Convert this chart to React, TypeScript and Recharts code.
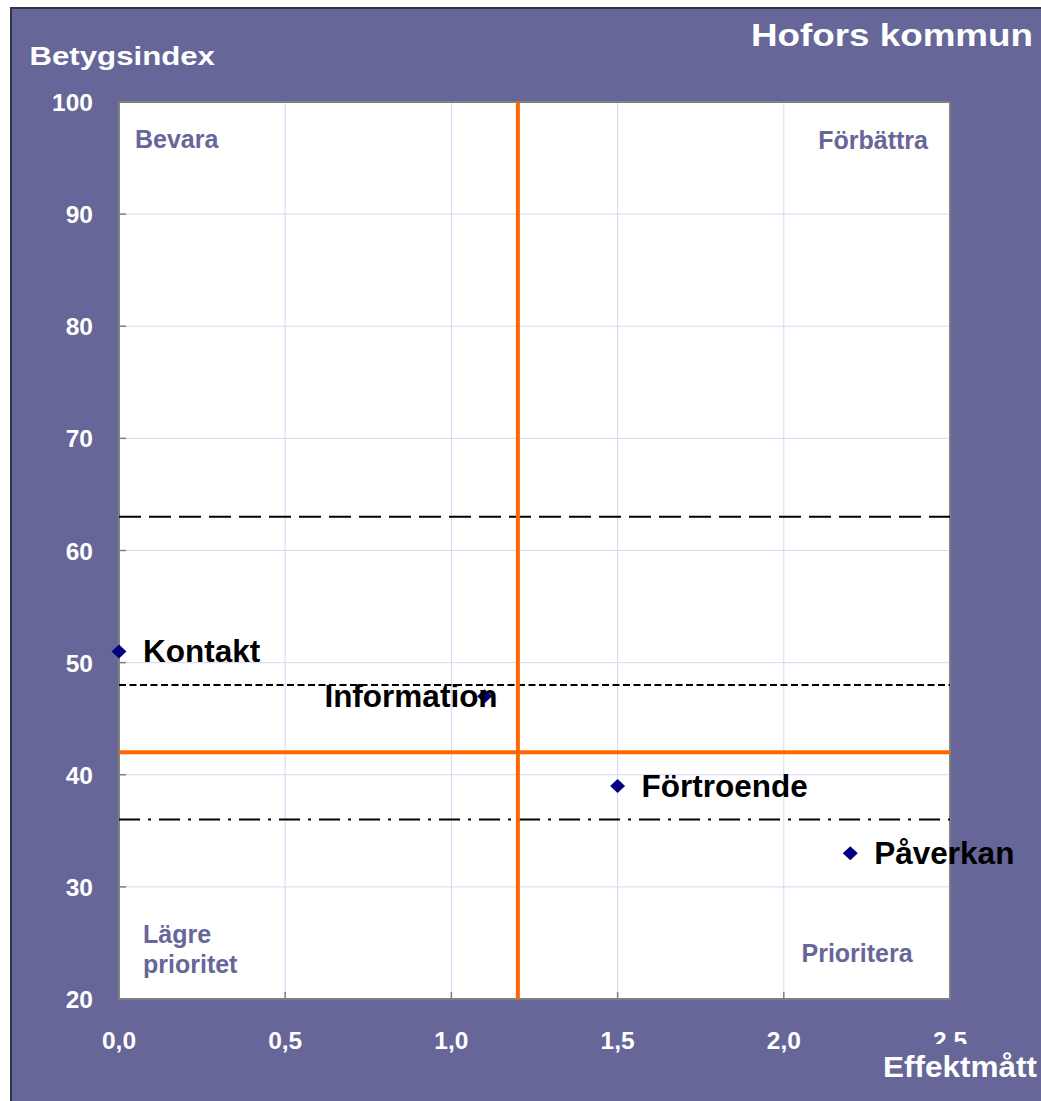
import React from "react";
import {
  ScatterChart,
  Scatter,
  XAxis,
  YAxis,
  CartesianGrid,
  ReferenceLine,
  ReferenceArea,
} from "recharts";

const AREAS = ["Kontakt", "Information", "Förtroende", "Påverkan"];
const EFFEKT = [0, 1.1, 1.5, 2.2];
const BETYG = [51, 47, 39, 33];

const X_TICKS = [0, 0.5, 1, 1.5, 2, 2.5];
const Y_TICKS = [20, 30, 40, 50, 60, 70, 80, 90, 100];

const MEDIAN_EFFEKT = 1.2;
const MEDIAN_BETYG = 42;
const LINE_HIGH = 63;
const LINE_MID = 48;
const LINE_LOW = 36;

const BG = "#666699";
const FONT = "'Liberation Sans', Arial, sans-serif";

const data = AREAS.map((name, i) => ({ name, x: EFFEKT[i], y: BETYG[i] }));

const fmt = (v: number) => v.toFixed(1).replace(".", ",");

const XTick = (props: any) => {
  const { x, y, payload } = props;
  return (
    <g>
      <line x1={x} x2={x} y1={y - 7} y2={y} stroke="#808080" strokeWidth={1.5} />
      <text x={x} y={y + 50} textAnchor="middle" fill="#fff" fontSize={24.5} fontWeight="bold" fontFamily={FONT}>
        {fmt(payload.value)}
      </text>
    </g>
  );
};

const YTick = (props: any) => {
  const { x, y, payload } = props;
  return (
    <g>
      <line x1={x} x2={x + 7} y1={y} y2={y} stroke="#808080" strokeWidth={1.5} />
      <text x={x - 26} y={y + 9} textAnchor="end" fill="#fff" fontSize={24.5} fontWeight="bold" fontFamily={FONT}>
        {payload.value}
      </text>
    </g>
  );
};

// diamond marker with its name beside it
const Marker = (props: any) => {
  const { cx, cy, payload } = props;
  const leftSide = payload.name === "Information";
  return (
    <g>
      <polygon
        points={`${cx - 7.5},${cy} ${cx},${cy - 7} ${cx + 7.5},${cy} ${cx},${cy + 7}`}
        fill="#000080"
      />
      <text
        x={leftSide ? cx + 13 : cx + 24}
        y={cy + 11}
        textAnchor={leftSide ? "end" : "start"}
        fill="#000"
        fontSize={31.5}
        fontWeight="bold"
        fontFamily={FONT}
      >
        {payload.name}
      </text>
    </g>
  );
};

const quadText = { fill: BG, fontSize: 25, fontWeight: "bold" as const, fontFamily: FONT };

export default function App() {
  return (
    <div style={{ position: "absolute", left: 0, top: 0, width: 1041, height: 1101, background: "#fff", overflow: "hidden" }}>
      <div
        style={{
          position: "absolute",
          left: 10,
          top: 7,
          width: 1031,
          height: 1094,
          background: BG,
          borderLeft: "2px solid #333344",
          borderTop: "2px solid #333344",
          boxSizing: "border-box",
        }}
      />
      <div style={{ position: "absolute", left: 0, top: 0 }}>
        <ScatterChart width={1041} height={1101} margin={{ top: 102, right: 91, bottom: 42, left: 59 }}>
          <CartesianGrid stroke="#d6d6f5" fill="#fff" />
          <XAxis
            type="number"
            dataKey="x"
            domain={[0, 2.5]}
            ticks={X_TICKS}
            height={60}
            axisLine={false}
            tickLine={false}
            tickSize={0}
            tickMargin={0}
            tick={<XTick />}
            interval={0}
          />
          <YAxis
            type="number"
            dataKey="y"
            domain={[20, 100]}
            ticks={Y_TICKS}
            width={60}
            axisLine={false}
            tickLine={false}
            tickSize={0}
            tickMargin={0}
            tick={<YTick />}
            interval={0}
          />
          <ReferenceArea x1={0} x2={2.5} y1={20} y2={100} fill="none" stroke="#808080" strokeWidth={2} />
          <ReferenceLine y={LINE_HIGH} stroke="#000" strokeWidth={2} strokeDasharray="22 8" />
          <ReferenceLine y={LINE_MID} stroke="#000" strokeWidth={2} strokeDasharray="7 3.5" />
          <ReferenceLine y={LINE_LOW} stroke="#000" strokeWidth={2} strokeDasharray="21 8 3 8" />
          <ReferenceLine x={MEDIAN_EFFEKT} stroke="#ff6600" strokeWidth={4} />
          <ReferenceLine y={MEDIAN_BETYG} stroke="#ff6600" strokeWidth={4} />
          <Scatter data={data} shape={<Marker />} isAnimationActive={false} />
        </ScatterChart>
      </div>
      <svg width={1041} height={1101} style={{ position: "absolute", left: 0, top: 0, pointerEvents: "none" }}>
        <text transform="translate(29.5,65) scale(1.2,1)" fill="#fff" fontSize={26} fontWeight="bold" fontFamily={FONT}>
          Betygsindex
        </text>
        <text transform="translate(1033,46) scale(1.15,1)" textAnchor="end" fill="#fff" fontSize={32} fontWeight="bold" fontFamily={FONT}>
          Hofors kommun
        </text>
        <rect x={872} y={1044} width={169} height={46} fill={BG} />
        <text transform="translate(1037,1077) scale(1.05,1)" textAnchor="end" fill="#fff" fontSize={30} fontWeight="bold" fontFamily={FONT}>
          Effektmått
        </text>
        <text x={135} y={148} {...quadText}>Bevara</text>
        <text x={928} y={148.5} textAnchor="end" {...quadText}>Förbättra</text>
        <text x={143} y={943} {...quadText}>Lägre</text>
        <text x={143} y={973} {...quadText}>prioritet</text>
        <text x={801.5} y={962} {...quadText}>Prioritera</text>
      </svg>
    </div>
  );
}
